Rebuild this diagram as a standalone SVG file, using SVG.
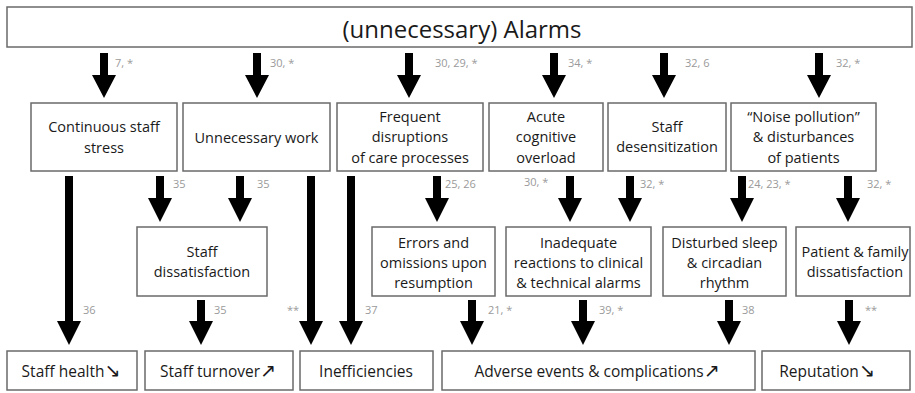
<svg xmlns="http://www.w3.org/2000/svg" width="915" height="393" viewBox="0 0 915 393">
<style>
.box{fill:#fff;stroke:#6a6a6a;stroke-width:1.5}
.t{font-family:"Open Sans","DejaVu Sans",sans-serif;font-size:14.5px;fill:#1a1a1a;text-anchor:middle}
.tb{font-family:"Open Sans","DejaVu Sans",sans-serif;font-size:15.5px;fill:#1a1a1a;text-anchor:middle}
.ar{font-family:"DejaVu Sans",sans-serif;font-size:19px}
.title{font-family:"Open Sans","DejaVu Sans",sans-serif;font-size:24px;fill:#1a1a1a;text-anchor:middle}
.lbl{font-family:"Open Sans","DejaVu Sans",sans-serif;font-size:11px;fill:#9a9a9a}
.arr{fill:#000}
</style>
<rect width="915" height="393" fill="#fff"/>
<g id="alarms"><rect class="box" x="7" y="7" width="905" height="40"/><text class="title" x="462" y="38">(unnecessary) Alarms</text></g>
<g id="stress"><rect class="box" x="31" y="103" width="146" height="68"/><text class="t" x="104" y="132">Continuous staff</text><text class="t" x="104" y="153">stress</text></g>
<g id="unnecessary-work"><rect class="box" x="183" y="103" width="147" height="68"/><text class="t" x="256.5" y="143">Unnecessary work</text></g>
<g id="disruptions"><rect class="box" x="337" y="103" width="146" height="68"/><text class="t" x="410" y="122">Frequent</text><text class="t" x="410" y="142">disruptions</text><text class="t" x="410" y="163">of care processes</text></g>
<g id="overload"><rect class="box" x="489" y="103" width="114" height="68"/><text class="t" x="546" y="122">Acute</text><text class="t" x="546" y="142">cognitive</text><text class="t" x="546" y="163">overload</text></g>
<g id="desensitization"><rect class="box" x="608" y="103" width="118" height="68"/><text class="t" x="667" y="132">Staff</text><text class="t" x="667" y="152">desensitization</text></g>
<g id="noise"><rect class="box" x="731" y="103" width="145" height="68"/><text class="t" x="803.5" y="122">“Noise pollution”</text><text class="t" x="803.5" y="142">&amp; disturbances</text><text class="t" x="803.5" y="163">of patients</text></g>
<g id="staff-dissatisfaction"><rect class="box" x="137" y="227" width="130" height="69"/><text class="t" x="202" y="257">Staff</text><text class="t" x="202" y="277">dissatisfaction</text></g>
<g id="errors"><rect class="box" x="372" y="227" width="123" height="69"/><text class="t" x="433.5" y="248">Errors and</text><text class="t" x="433.5" y="268">omissions upon</text><text class="t" x="433.5" y="288">resumption</text></g>
<g id="inadequate"><rect class="box" x="506" y="227" width="145" height="69"/><text class="t" x="578.5" y="248">Inadequate</text><text class="t" x="578.5" y="268">reactions to clinical</text><text class="t" x="578.5" y="288">&amp; technical alarms</text></g>
<g id="sleep"><rect class="box" x="663" y="227" width="123" height="69"/><text class="t" x="724.5" y="248">Disturbed sleep</text><text class="t" x="724.5" y="268">&amp; circadian</text><text class="t" x="724.5" y="288">rhythm</text></g>
<g id="patient-dissatisfaction"><rect class="box" x="796" y="227" width="114" height="69"/><text class="t" x="855" y="257">Patient &amp; family</text><text class="t" x="855" y="277">dissatisfaction</text></g>
<g id="health"><rect class="box" x="7" y="351" width="130" height="39"/><text class="tb" x="71" y="377">Staff health<tspan class="ar">↘</tspan></text></g>
<g id="turnover"><rect class="box" x="145" y="351" width="148" height="39"/><text class="tb" x="218" y="377">Staff turnover<tspan class="ar">↗</tspan></text></g>
<g id="inefficiencies"><rect class="box" x="300" y="351" width="133" height="39"/><text class="tb" x="366" y="377">Inefficiencies</text></g>
<g id="adverse"><rect class="box" x="442" y="351" width="313" height="39"/><text class="tb" x="597" y="377">Adverse events &amp; complications<tspan class="ar">↗</tspan></text></g>
<g id="reputation"><rect class="box" x="762" y="351" width="148" height="39"/><text class="tb" x="827" y="377">Reputation<tspan class="ar">↘</tspan></text></g>
<g id="connectors">
<path class="arr" d="M100,53H108V75H116L104,98L92,75H100Z"/>
<path class="arr" d="M253,53H261V75H269L257,98L245,75H253Z"/>
<path class="arr" d="M405,53H413V75H421L409,98L397,75H405Z"/>
<path class="arr" d="M550,53H558V75H566L554,98L542,75H550Z"/>
<path class="arr" d="M660,53H668V75H676L664,98L652,75H660Z"/>
<path class="arr" d="M815,53H823V75H831L819,98L807,75H815Z"/>
<path class="arr" d="M65,176H73V321H81L69,345L57,321H65Z"/>
<path class="arr" d="M307,176H315V321H323L311,345L299,321H307Z"/>
<path class="arr" d="M347,176H355V321H363L351,345L339,321H347Z"/>
<path class="arr" d="M156,176H164V198H172L160,222L148,198H156Z"/>
<path class="arr" d="M236,176H244V198H252L240,222L228,198H236Z"/>
<path class="arr" d="M433,176H441V198H449L437,222L425,198H433Z"/>
<path class="arr" d="M566,176H574V198H582L570,222L558,198H566Z"/>
<path class="arr" d="M626,176H634V198H642L630,222L618,198H626Z"/>
<path class="arr" d="M738,176H746V198H754L742,222L730,198H738Z"/>
<path class="arr" d="M844,176H852V198H860L848,222L836,198H844Z"/>
<path class="arr" d="M197,300H205V321H213L201,345L189,321H197Z"/>
<path class="arr" d="M468,300H476V321H484L472,345L460,321H468Z"/>
<path class="arr" d="M579,300H587V321H595L583,345L571,321H579Z"/>
<path class="arr" d="M725,300H733V321H741L729,345L717,321H725Z"/>
<path class="arr" d="M845,300H853V321H861L849,345L837,321H845Z"/>
<text class="lbl" x="115" y="67">7, *</text>
<text class="lbl" x="270" y="67">30, *</text>
<text class="lbl" x="435" y="67">30, 29, *</text>
<text class="lbl" x="568" y="67">34, *</text>
<text class="lbl" x="685" y="67">32, 6</text>
<text class="lbl" x="836" y="67">32, *</text>
<text class="lbl" x="173" y="188">35</text>
<text class="lbl" x="257" y="188">35</text>
<text class="lbl" x="445" y="188">25, 26</text>
<text class="lbl" x="524" y="186">30, *</text>
<text class="lbl" x="640" y="188">32, *</text>
<text class="lbl" x="748" y="188">24, 23, *</text>
<text class="lbl" x="867" y="188">32, *</text>
<text class="lbl" x="83" y="314">36</text>
<text class="lbl" x="214" y="314">35</text>
<text class="lbl" x="287" y="314">**</text>
<text class="lbl" x="365" y="314">37</text>
<text class="lbl" x="488" y="314">21, *</text>
<text class="lbl" x="599" y="314">39, *</text>
<text class="lbl" x="742" y="314">38</text>
<text class="lbl" x="865" y="314">**</text>
</g>
</svg>
